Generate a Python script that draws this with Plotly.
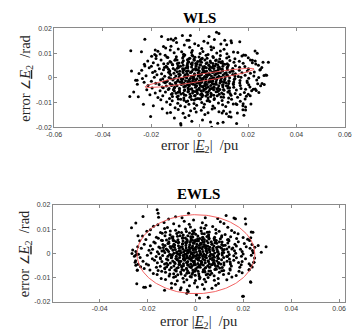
import numpy as np
import plotly.graph_objects as go

# ---------------- data (units of 1e-4 pu / 1e-4 rad) ----------------
UNIT = 1e-4

wls_points = [
    # outer points
    (-284,110),(-281,28),(-288,-75),(-272,-57),(-264,-9),(-257,-26),(-240,106),(-226,156),(-228,55),
    (-232,-106),(-202,-156),(-191,-113),(-185,95),(-157,168),(-149,127),(-253,-76),(-199,47),(-183,113),
    (-179,90),(-130,155),(-118,157),(-108,152),(-99,160),(-71,172),(-38,172),(-44,152),(-154,-125),
    (-134,-142),(-120,-140),(-104,-162),(-78,-184),(-32,-175),(12,-170),(-77,-190),(-60,-160),(70,185),
    (80,180),(39,168),(104,152),(130,150),(132,142),(166,146),(182,93),(229,109),(238,100),(262,63),
    (284,63),(251,34),(266,10),(258,-23),(245,-59),(222,-46),(209,-72),(212,-105),(179,-113),(190,-118),
    (179,-129),(156,-142),(126,-138),(111,-145),(93,-142),(183,-151),(153,-184),(97,-179),(45,-178),
    (50,-200),(190,92),(210,72),(218,61),(230,68),(277,11),(267,-27),(234,-51),(190,-130),(180,-104),
    (154,-108),(121,-156),(75,-183),
    # core
    (-52,152),(18,148),(61,155),
    (-95,143),(-20,138),(34,141),(88,137),
    (-118,128),(-63,133),(-5,131),(47,126),(112,134),
    (-140,121),(-88,117),(-41,124),(9,119),(58,122),(101,116),
    (-172,108),(-121,113),(-74,106),(-30,111),(14,107),(49,114),(86,109),(140,105),
    (-163,97),(-105,102),(-66,96),(-33,103),(2,99),(35,95),(71,101),(113,98),(158,103),
    (-198,88),(-142,92),(-96,86),(-61,93),(-28,89),(-2,85),(27,92),(55,87),(86,91),(121,86),(175,89),
    (-180,79),(-131,83),(-99,76),(-70,81),(-44,78),(-19,84),(7,76),(31,80),(57,83),(83,77),(112,81),(146,78),(201,82),
    (-214,68),(-159,72),(-122,66),(-93,73),(-67,69),(-45,65),(-22,71),(0,67),(22,73),(44,68),(69,72),(94,66),(125,70),(164,67),(218,71),
    (-191,61),(-148,57),(-118,63),(-92,58),(-71,62),(-50,56),(-30,61),(-11,57),(8,63),(27,58),(46,62),(67,56),(89,61),(114,57),(142,63),(180,59),(232,56),
    (-226,48),(-172,52),(-138,47),(-111,53),(-89,49),(-68,51),(-49,46),(-31,53),(-14,48),(4,52),(21,46),(38,51),(56,48),(75,53),(96,47),(119,52),(148,49),(187,46),(243,51),
    (-208,41),(-166,37),(-134,43),(-109,38),(-87,42),(-67,36),(-49,41),(-33,44),(-17,38),(-2,42),(13,37),(28,41),(43,44),(59,38),(76,42),(94,36),(114,41),(137,38),(165,43),(202,37),(257,42),
    (-239,31),(-184,27),(-149,33),(-123,28),(-101,32),(-82,27),(-64,33),(-47,29),(-32,26),(-16,32),(-1,28),(14,33),(29,27),(44,31),(60,26),(77,32),(95,28),(115,33),(138,27),(164,31),(197,28),(249,32),
    (-250,18),(-194,22),(-157,17),(-128,23),(-106,19),(-86,16),(-68,22),(-52,18),(-36,23),(-21,17),(-6,21),(8,16),(23,22),(38,18),(53,23),(69,17),(86,21),(104,18),(125,23),(148,17),(175,21),(210,19),(226,24),
    (-221,9),(-176,13),(-144,7),(-119,12),(-98,8),(-80,13),(-63,6),(-48,11),(-34,7),(-20,12),(-6,8),(7,13),(21,6),(35,11),(49,8),(64,13),(80,7),(97,12),(116,9),(137,14),(160,6),(188,11),(224,8),(273,12),
    (-236,-2),(-187,3),(-152,-3),(-126,2),(-104,-1),(-85,4),(-68,-4),(-53,1),(-39,-2),(-25,3),(-11,-3),(2,2),(15,-1),(29,4),(43,-3),(57,1),(72,-2),(88,3),(105,-4),(124,1),(146,-2),(171,3),(203,-1),(244,2),
    (-258,-9),(-199,-13),(-161,-7),(-133,-12),(-110,-8),(-91,-13),(-74,-6),(-58,-11),(-43,-8),(-29,-12),(-15,-7),(-1,-11),(12,-6),(26,-13),(40,-9),(55,-12),(70,-7),(86,-11),(103,-8),(122,-13),(143,-6),(167,-10),(196,-12),(236,-8),
    (-229,-18),(-181,-22),(-148,-17),(-122,-23),(-100,-19),(-81,-16),(-64,-22),(-48,-18),(-33,-23),(-19,-17),(-4,-21),(10,-16),(24,-22),(38,-18),(53,-23),(68,-17),(84,-21),(101,-18),(120,-23),(141,-17),(166,-21),(197,-19),(240,-24),
    (-213,-31),(-167,-27),(-137,-33),(-113,-28),(-93,-32),(-75,-27),(-58,-33),(-42,-29),(-27,-26),(-12,-32),(2,-28),(16,-33),(31,-27),(46,-31),(62,-26),(79,-32),(97,-28),(117,-33),(140,-27),(168,-31),(203,-28),(252,-32),
    (-196,-41),(-154,-37),(-126,-43),(-103,-38),(-83,-42),(-65,-36),(-48,-41),(-32,-44),(-17,-38),(-2,-42),(13,-37),(28,-41),(44,-44),(60,-38),(77,-42),(96,-36),(117,-41),(141,-38),(171,-43),(208,-37),(230,-45),
    (-218,-48),(-163,-52),(-129,-47),(-104,-53),(-83,-49),(-63,-51),(-45,-46),(-28,-53),(-11,-48),(6,-52),(23,-46),(40,-51),(58,-48),(78,-53),(99,-47),(123,-52),(152,-49),(190,-46),(215,-52),
    (-183,-61),(-141,-57),(-113,-63),(-89,-58),(-68,-62),(-48,-56),(-29,-61),(-10,-57),(9,-63),(28,-58),(47,-62),(68,-56),(91,-61),(117,-57),(147,-63),(185,-59),(201,-66),
    (-205,-68),(-152,-72),(-116,-66),(-88,-73),(-63,-69),(-40,-65),(-18,-71),(4,-67),(26,-73),(49,-68),(73,-72),(99,-66),(130,-70),(168,-67),(193,-74),
    (-172,-79),(-124,-83),(-93,-76),(-65,-81),(-40,-78),(-15,-84),(10,-76),(35,-80),(61,-83),(89,-77),(120,-81),(157,-78),(188,-85),
    (-160,-88),(-113,-92),(-78,-86),(-49,-93),(-22,-89),(4,-85),(31,-92),(60,-87),(93,-91),(132,-86),(168,-94),
    (-136,-97),(-90,-102),(-55,-96),(-23,-103),(9,-99),(42,-95),(78,-101),(118,-98),(150,-104),
    (-121,-108),(-79,-113),(-44,-106),(-12,-111),(20,-107),(55,-114),(95,-109),(139,-105),
    (-101,-121),(-60,-117),(-21,-124),(17,-119),(62,-122),(108,-116),
    (-88,-128),(-37,-133),(7,-131),(52,-126),(99,-134),
    (-68,-143),(-14,-138),(35,-141),(80,-137),
    (-44,-152),(22,-148),(130,-158),
    # dense centre
    (-93,25),(-57,40),(-24,-5),(12,22),(47,-15),(81,44),(-71,-24),(-35,57),(18,-46),(63,12),
    (-118,-3),(-8,66),(33,-67),(-46,-54),(95,-29),(-85,60),(5,-34),(40,37),(-60,13),(74,-55),
    (-15,48),(-105,-42),(26,5),(58,-38),(-40,-16),(110,21),(-77,-65),(1,-84),(-128,35),(87,63),
    (-27,34),(49,-3),(-63,-37),(-1,17),(22,-24),(-89,-8),(68,28),(-50,74),(36,-90),(-112,54),
    (14,45),(-36,-74),(91,2),(-19,-55),(55,58),(-70,37),(124,-40),(-142,-20),(8,-10),(-54,27),
    (-131,58),(-116,-31),(-102,71),(-97,-62),(-84,15),(-79,47),(-73,-14),(-66,88),(-61,-49),(-55,3),
    (-48,63),(-43,-33),(-38,22),(-33,-87),(-28,-1),(-23,76),(-19,-28),(-14,35),(-9,-63),(-4,10),
    (1,53),(6,-19),(11,80),(16,-52),(21,27),(26,-6),(31,61),(36,-37),(41,14),(46,-75),
    (51,42),(56,-25),(61,-2),(66,70),(71,-44),(76,19),(81,-66),(86,37),(91,-14),(96,58),
    (101,-50),(106,5),(111,-32),(116,46),(121,-11),(126,-63),(133,29),(139,-24),(146,8),(-137,-15),
    (-123,18),(-108,-48),(-92,39),(-88,-85),(-75,-3),(-69,28),(-57,-70),(-52,50),(-45,-10),(-40,80),
    (-35,-45),(-26,8),(-21,-72),(-16,58),(-11,-20),(-6,33),(-2,-47),(3,72),(9,-4),(13,-70),
    (19,40),(24,-33),(29,15),(34,-58),(39,52),(44,-8),(50,-43),(54,22),(59,-70),(64,48),
    (69,-26),(74,3),(79,65),(84,-47),(89,-3),(94,30),(99,-78),(104,55),(109,-20),(114,12),
    (-150,-40),(-145,42),(-135,85),(-112,-75),(-98,-25),(-82,-57),(-64,-90),(-50,-28),(-31,92),(-7,-83),
]

ewls_points = [
    # outer points
    (-267,106),(-249,126),(-219,153),(-160,180),(-156,166),(-249,-6),(-245,-3),(-249,-49),(-243,-69),
    (-245,-125),(-216,-139),(-189,-133),(-129,-152),(-100,-143),(-36,-164),(4,-170),(17,-184),(53,-181),
    (200,-177),(231,-119),(295,28),(248,26),(244,-36),(237,-56),(240,88),(231,65),(208,143),(167,143),
    (128,157),(-29,166),(-56,147),(-154,149),(-240,73),(-252,-36),(-209,-139),(-63,-150),(-30,-157),
    (161,146),(210,122),(233,89),(224,-67),(230,-117),(197,-177),
    # core
    (-83,151),(41,147),
    (-112,142),(-8,138),(93,144),
    (-131,128),(-47,133),(29,127),(104,131),
    (-157,118),(-91,123),(-26,121),(44,116),(119,124),
    (-175,112),(-117,107),(-68,113),(-21,109),(23,106),(72,111),(135,108),
    (-188,98),(-129,103),(-83,96),(-41,101),(-3,97),(38,104),(85,99),(151,95),
    (-203,92),(-146,87),(-105,93),(-70,88),(-38,91),(-7,86),(24,93),(58,89),(99,92),(163,87),
    (-192,78),(-139,83),(-106,77),(-78,82),(-51,76),(-25,84),(1,79),(27,82),(55,77),(86,83),(124,78),(178,81),
    (-221,72),(-163,67),(-127,73),(-99,68),(-75,71),(-53,66),(-32,73),(-11,68),(10,72),(31,66),(54,71),(80,67),(110,73),(147,69),(199,66),
    (-207,58),(-155,63),(-121,56),(-95,62),(-73,57),(-54,63),(-36,58),(-18,61),(0,56),(18,62),(37,58),(57,63),(79,56),(104,61),(134,57),(172,62),(218,59),
    (-233,52),(-174,47),(-138,53),(-111,48),(-89,52),(-70,46),(-52,51),(-35,47),(-19,53),(-3,49),(13,52),(30,46),(47,51),(66,48),(87,53),(111,47),(140,52),(179,48),(226,54),
    (-214,38),(-168,43),(-136,37),(-111,42),(-90,38),(-72,44),(-55,39),(-39,41),(-24,36),(-9,43),(6,38),(21,42),(37,37),(53,44),(70,39),(89,42),(110,37),(135,43),(165,38),(204,41),(236,37),
    (-241,28),(-188,32),(-153,27),(-127,33),(-106,29),(-88,26),(-71,32),(-55,28),(-40,33),(-26,27),(-12,31),(2,26),(16,33),(30,28),(45,32),(60,26),(77,31),(95,28),(116,33),(140,27),(171,31),(212,28),(262,33),
    (-226,22),(-179,17),(-147,23),(-122,18),(-102,21),(-84,16),(-68,22),(-53,18),(-39,23),(-25,17),(-12,21),(1,16),(14,22),(28,18),(42,23),(57,17),(73,21),(90,16),(109,22),(131,18),(156,23),(188,17),(228,21),(-262,14),
    (-249,8),(-194,13),(-159,7),(-133,12),(-112,8),(-94,13),(-78,6),(-63,11),(-49,7),(-35,12),(-22,8),(-9,13),(4,6),(17,11),(31,8),(45,13),(60,7),(76,12),(94,8),(114,13),(137,6),(163,11),(195,8),(238,12),(275,5),
    (-238,-3),(-186,2),(-153,-1),(-128,4),(-108,-4),(-90,1),(-74,-2),(-59,3),(-45,-3),(-31,2),(-18,-1),(-5,4),(8,-4),(21,1),(35,-2),(49,3),(64,-3),(80,2),(98,-1),(118,4),(141,-4),(168,1),(199,-2),(241,3),(-265,0),
    (-255,-11),(-201,-7),(-164,-13),(-137,-8),(-115,-12),(-96,-6),(-80,-11),(-65,-7),(-50,-13),(-36,-9),(-23,-12),(-10,-6),(3,-11),(16,-8),(30,-13),(44,-7),(59,-12),(75,-8),(92,-11),(112,-6),(134,-13),(160,-9),(192,-12),(233,-7),(-6,-9),
    (-231,-17),(-180,-22),(-147,-18),(-121,-23),(-100,-16),(-82,-21),(-66,-17),(-51,-23),(-37,-18),(-23,-22),(-10,-16),(3,-21),(17,-17),(31,-23),(46,-18),(62,-22),(79,-16),(97,-21),(118,-17),(142,-23),(171,-18),(209,-22),(247,-19),(-16,-19),
    (-219,-32),(-171,-28),(-140,-33),(-115,-27),(-95,-31),(-77,-26),(-61,-32),(-46,-28),(-32,-33),(-18,-27),(-4,-31),(10,-26),(24,-32),(39,-28),(54,-33),(71,-27),(89,-31),(109,-26),(132,-32),(160,-28),(195,-33),(244,-36),(-250,-30),
    (-205,-43),(-159,-38),(-129,-44),(-105,-39),(-85,-41),(-67,-36),(-50,-42),(-35,-38),(-20,-43),(-5,-37),(10,-41),(25,-44),(41,-38),(58,-42),(76,-36),(96,-41),(119,-38),(146,-43),(180,-37),(224,-42),(-240,-45),
    (-196,-48),(-147,-53),(-115,-47),(-90,-52),(-69,-46),(-50,-51),(-33,-48),(-16,-53),(0,-47),(16,-52),(33,-48),(51,-51),(71,-46),(93,-53),(119,-48),(150,-52),(191,-47),(-229,-55),(230,-50),
    (-214,-62),(-163,-57),(-128,-63),(-101,-58),(-78,-61),(-57,-56),(-37,-62),(-18,-58),(1,-63),(20,-57),(40,-61),(61,-56),(85,-62),(112,-58),(144,-63),(185,-57),(-243,-68),
    (-190,-68),(-141,-73),(-108,-67),(-80,-72),(-56,-66),(-33,-71),(-11,-68),(11,-73),(33,-67),(56,-72),(81,-66),(110,-71),(145,-68),(182,-73),(224,-67),
    (-176,-83),(-125,-78),(-91,-84),(-62,-77),(-36,-82),(-11,-79),(14,-84),(40,-77),(68,-82),(100,-78),(139,-83),(195,-80),
    (-160,-87),(-110,-93),(-74,-88),(-43,-91),(-14,-86),(15,-93),(45,-88),(78,-92),(117,-87),(170,-91),
    (-143,-103),(-91,-98),(-52,-102),(-17,-97),(17,-104),(53,-99),(95,-103),(152,-97),
    (-125,-107),(-76,-113),(-36,-108),(0,-112),(37,-106),(79,-111),(131,-108),
    (-100,-123),(-48,-118),(-4,-122),(43,-117),(96,-124),
    (-84,-127),(-25,-133),(29,-128),(85,-131),
    (-60,-142),(8,-138),(69,-144),
    (-34,-151),(37,-147),
    # dense centre
    (-87,35),(-44,-24),(-12,55),(23,-4),(52,30),(-66,-45),(9,-57),(71,-19),(-29,14),(38,-72),
    (-101,-18),(-5,-40),(84,52),(-58,86),(30,67),(-120,-55),(101,-60),(-17,24),(61,-88),(-79,2),
    (14,-28),(-41,45),(46,9),(-94,69),(120,16),(-3,-73),(-60,-85),(79,-41),(-30,-48),(24,38),
    (-140,10),(-9,-15),(58,-57),(-51,-7),(37,81),(-115,41),(93,-8),(-22,-95),(5,29),(-70,-30),
    (-134,25),(-121,-40),(-109,62),(-103,-5),(-96,30),(-86,-68),(-81,48),(-76,-22),(-69,10),(-64,73),
    (-58,-52),(-53,40),(-47,-14),(-42,64),(-37,-37),(-32,5),(-27,-80),(-22,46),(-17,-28),(-13,79),
    (-8,-48),(-3,20),(2,-66),(7,51),(12,-19),(18,8),(23,-45),(28,57),(33,-9),(38,30),
    (43,-58),(48,70),(53,-30),(58,15),(63,-72),(68,38),(73,-4),(78,62),(83,-50),(88,25),
    (94,-20),(100,48),(106,-43),(112,3),(118,-70),(124,34),(131,-12),(138,58),(145,-35),(152,18),
    (-146,-22),(-128,-60),(-117,14),(-107,-85),(-93,54),(-88,-36),(-72,-58),(-61,27),(-49,-69),(-44,12),
    (-39,-2),(-34,52),(-29,-20),(-24,-55),(-20,69),(-15,2),(-10,-33),(-6,42),(-1,-90),(4,-8),
    (9,61),(15,-50),(20,24),(26,-36),(31,-75),(36,47),(41,-16),(46,20),(51,-85),(56,60),
    (62,-9),(67,-47),(72,14),(77,-28),(82,44),(87,-65),(92,6),(97,-37),(103,27),(109,68),
    (-156,-70),(-142,55),(-125,88),(-99,-10),(-83,-95),(-67,-1),(-38,-62),(-12,93),(19,-99),(49,88),
]

# ellipse parameters (data units)
wls_ell_center = (0.0, 0.0)
wls_ell_major = (0.0225, 0.0036)      # semi-major vector
wls_ell_minor = (-0.00024, 0.00148)   # semi-minor vector
ewls_ell_center = (0.0002, -0.0003)
ewls_ell_semi = (0.0246, 0.0163)

x_tick_vals = [-0.06, -0.04, -0.02, 0, 0.02, 0.04, 0.06]
x_tick_text = ["-0.06", "-0.04", "-0.02", "0", "0.02", "0.04", "0.06"]
y_tick_vals = [-0.02, -0.01, 0, 0.01, 0.02]
y_tick_text = ["-0.02", "-0.01", "0", "0.01", "0.02"]

titles = ["WLS", "EWLS"]
x_label = "error |<u><i>E</i></u><sub>2</sub>|  /pu"
y_label = "error <span style='font-size:12px'>\u2220</span><u><i>E</i></u><sub>2</sub>  /rad"

# ---------------- figure ----------------
W, H = 356, 334
wls = np.array(wls_points, dtype=float) * UNIT
ewls = np.array(ewls_points, dtype=float) * UNIT

t = np.linspace(0, 2 * np.pi, 241)
wls_ex = wls_ell_center[0] + wls_ell_major[0] * np.cos(t) + wls_ell_minor[0] * np.sin(t)
wls_ey = wls_ell_center[1] + wls_ell_major[1] * np.cos(t) + wls_ell_minor[1] * np.sin(t)
ewls_ex = ewls_ell_center[0] + ewls_ell_semi[0] * np.cos(t)
ewls_ey = ewls_ell_center[1] + ewls_ell_semi[1] * np.sin(t)

fig = go.Figure()
mk = dict(color="black", size=3.0, symbol="circle", line=dict(width=0))
ell_line = dict(color="rgb(240,80,80)", width=0.9)

fig.add_trace(go.Scatter(x=wls[:, 0], y=wls[:, 1], mode="markers", marker=mk, xaxis="x", yaxis="y"))
fig.add_trace(go.Scatter(x=wls_ex, y=wls_ey, mode="lines", line=ell_line, xaxis="x", yaxis="y"))
fig.add_trace(go.Scatter(x=ewls[:, 0], y=ewls[:, 1], mode="markers", marker=mk, xaxis="x2", yaxis="y2"))
fig.add_trace(go.Scatter(x=ewls_ex, y=ewls_ey, mode="lines", line=ell_line, xaxis="x2", yaxis="y2"))

axis_col = "#8a8a8a"
tickfont = dict(family="Liberation Sans, Arial, sans-serif", size=7, color="#3a3a3a")

def xax(rng, dom, anchor):
    return dict(range=rng, domain=dom, anchor=anchor, tickvals=x_tick_vals, ticktext=x_tick_text,
                ticks="inside", ticklen=3, tickcolor=axis_col, tickwidth=1,
                showline=True, linecolor=axis_col, linewidth=1, mirror="ticks",
                showgrid=False, zeroline=False, tickfont=tickfont, fixedrange=True,
                ticklabeloverflow="allow")

def yax(rng, dom, anchor):
    return dict(range=rng, domain=dom, anchor=anchor, tickvals=y_tick_vals, ticktext=y_tick_text,
                ticks="inside", ticklen=3, tickcolor=axis_col, tickwidth=1,
                showline=True, linecolor=axis_col, linewidth=1, mirror="ticks",
                showgrid=False, zeroline=False, tickfont=tickfont, fixedrange=True)

# pixel boxes of the two axes
top_box = (48.3, 351.7, 25.0, 126.0)
bot_box = (46.7, 351.7, 205.3, 304.3)

def xdom(b):
    return [b[0] / W, b[1] / W]

def ydom(b):
    return [1 - b[3] / H, 1 - b[2] / H]

serif = "Liberation Serif, Times New Roman, serif"
ann = []
for ttl, b, ty, xy in [(titles[0], top_box, 14.0, 145.0), (titles[1], bot_box, 193.7, 324.5)]:
    cx = (b[0] + b[1]) / 2 / W
    ann.append(dict(text="<b>" + ttl + "</b>", x=cx, y=1 - ty / H, xref="paper", yref="paper",
                    xanchor="center", yanchor="middle", showarrow=False,
                    font=dict(family=serif, size=15, color="black")))
    ann.append(dict(text=x_label, x=cx, y=1 - xy / H, xref="paper", yref="paper",
                    xanchor="center", yanchor="middle", showarrow=False,
                    font=dict(family=serif, size=14.5, color="#262626")))
    ann.append(dict(text=y_label, x=18.5 / W, y=1 - (b[2] + b[3]) / 2 / H, xref="paper", yref="paper",
                    xanchor="center", yanchor="middle", showarrow=False, textangle=-90,
                    font=dict(family=serif, size=14.5, color="#262626")))

fig.update_layout(
    width=W, height=H, margin=dict(l=0, r=0, t=0, b=0),
    paper_bgcolor="white", plot_bgcolor="white", showlegend=False,
    xaxis=xax([-0.06, 0.06], xdom(top_box), "y"),
    yaxis=yax([-0.02, 0.02], ydom(top_box), "x"),
    xaxis2=xax([-0.0596, 0.0624], xdom(bot_box), "y2"),
    yaxis2=yax([-0.02, 0.02], ydom(bot_box), "x2"),
    annotations=ann,
    hovermode=False,
)

fig.write_html("out.html", config={"displayModeBar": False, "staticPlot": True},
               post_script="document.body.style.margin='0';document.body.style.overflow='hidden';")
